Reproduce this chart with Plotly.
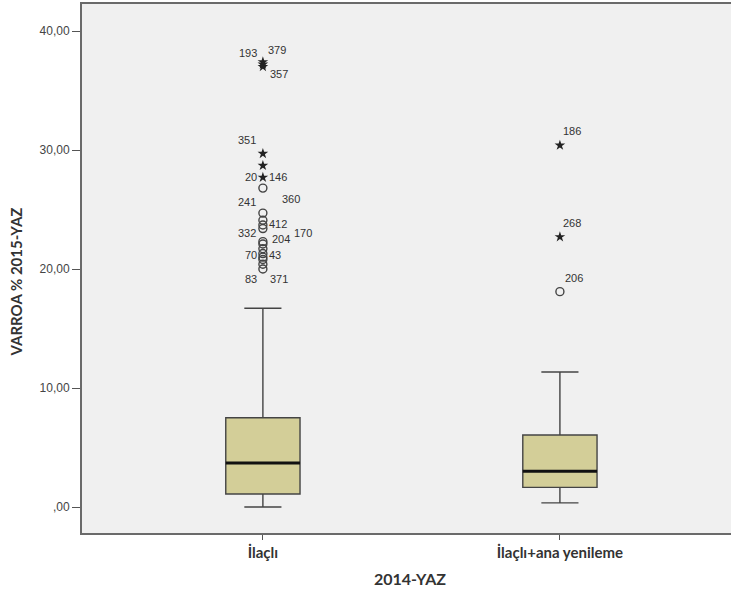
import plotly.graph_objects as go

# ---- data ----
categories = ["İlaçlı", "İlaçlı+ana yenileme"]
q1 = [1.1, 1.65]
median = [3.7, 3.0]
q3 = [7.5, 6.05]
lower_whisker = [0.0, 0.35]
upper_whisker = [16.7, 11.35]

# extreme outliers (stars) and outliers (circles), per category
left_extremes = [37.4, 37.2, 37.0, 29.7, 28.7, 27.7]
left_outliers = [26.8, 24.7, 24.1, 23.7, 23.4, 22.3, 22.1, 21.7, 21.3, 21.0, 20.8, 20.4, 20.0]
right_extremes = [30.4, 22.7]
right_outliers = [18.1]

# case labels: (text, category index, value of the point it belongs to)
label_text = ["193", "379", "357", "351", "20", "146", "360", "241", "412", "332",
              "170", "204", "70", "43", "83", "371", "186", "268", "206"]
label_cat = [0, 0, 0, 0, 0, 0, 0, 0, 0, 0, 0, 0, 0, 0, 0, 0, 1, 1, 1]
label_value = [37.2, 37.4, 37.0, 29.7, 27.7, 27.7, 26.8, 24.7, 24.1, 23.4,
               23.7, 22.3, 21.0, 21.0, 20.0, 20.0, 30.4, 22.7, 18.1]

tick_vals = [0, 10, 20, 30, 40]
tick_text = [",00", "10,00", "20,00", "30,00", "40,00"]

# ---- label pixel offsets (layout only) ----
label_offsets = [(-15, 11), (14, 12), (16, -7), (-16, 14), (-12, 0), (15, 0), (28, -11),
                 (-16, 11), (15, -4), (-16, -4), (40, -8), (18, 3), (-12, 2), (12, 2),
                 (-12, -10), (16, -10), (12, 14), (12, 14), (14, 14)]

BOX_W = 0.25
fig = go.Figure()
fig.add_trace(go.Box(
    x=categories, q1=q1, median=median, q3=q3,
    lowerfence=lower_whisker, upperfence=upper_whisker,
    boxpoints=False, width=BOX_W, whiskerwidth=0.5,
    fillcolor="#D3CE98", line=dict(color="#444444", width=1.4),
    showlegend=False, hoverinfo="skip",
))

star_x = [categories[0]] * len(left_extremes) + [categories[1]] * len(right_extremes)
star_y = left_extremes + right_extremes
circ_x = [categories[0]] * len(left_outliers) + [categories[1]] * len(right_outliers)
circ_y = left_outliers + right_outliers

fig.add_trace(go.Scatter(x=star_x, y=star_y, mode="markers",
                         marker=dict(symbol="star", size=8, color="#222222"),
                         showlegend=False, hoverinfo="skip"))
fig.add_trace(go.Scatter(x=circ_x, y=circ_y, mode="markers",
                         marker=dict(symbol="circle-open", size=8, color="#444444",
                                     line=dict(width=1.4, color="#444444")),
                         showlegend=False, hoverinfo="skip"))

# thick medians
for i, m in enumerate(median):
    fig.add_shape(type="line", xref="x", yref="y",
                  x0=i - BOX_W / 2, x1=i + BOX_W / 2, y0=m, y1=m,
                  line=dict(color="#111111", width=3))

annotations = []
for t, c, v, (dx, dy) in zip(label_text, label_cat, label_value, label_offsets):
    annotations.append(dict(x=categories[c], y=v, xref="x", yref="y", text=t,
                            showarrow=False, xshift=dx, yshift=dy,
                            font=dict(family="Liberation Sans", size=11, color="#333333")))
annotations.append(dict(x=0.5, y=0, xref="paper", yref="paper", text="<b>2014-YAZ</b>",
                        showarrow=False, yshift=-45, yanchor="middle", xshift=3,
                        font=dict(family="Lato", size=16, color="#333333")))
annotations.append(dict(x=0, y=0.5, xref="paper", yref="paper", text="<b>VARROA % 2015-YAZ</b>",
                        showarrow=False, xshift=-67, yshift=-14, textangle=-90, xanchor="center",
                        font=dict(family="Lato", size=15, color="#333333")))

fig.update_layout(
    width=731, height=592,
    margin=dict(l=82, r=0, t=4, b=59),
    paper_bgcolor="white", plot_bgcolor="#F0F0F0",
    annotations=annotations,
    xaxis=dict(type="category", range=[-0.609, 1.576], showgrid=False, zeroline=False,
               showline=True, linecolor="#6a6a6a", linewidth=2, mirror=True,
               ticks="outside", ticklen=5, tickcolor="#555555",
               tickfont=dict(family="Lato", size=15, color="#333333")),
    yaxis=dict(range=[-2.18, 42.27], showgrid=False, zeroline=False,
               showline=True, linecolor="#6a6a6a", linewidth=2,
               tickvals=tick_vals, ticktext=tick_text,
               ticks="outside", ticklen=8, tickcolor="#555555",
               tickfont=dict(family="Liberation Sans", size=12, color="#444444")),
)
fig.update_xaxes(tickprefix="<b>", ticksuffix="</b>")

fig.write_html("out.html")
